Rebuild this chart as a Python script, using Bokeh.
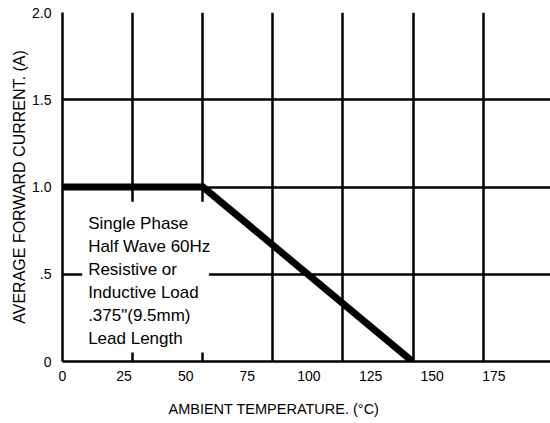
from bokeh.plotting import figure
from bokeh.models import FixedTicker, Label, BoxAnnotation, Range1d, Title
from bokeh.embed import file_html
from bokeh.resources import INLINE

# ---- data ----
temp_c = [0, 57, 142]          # ambient temperature (°C)
current_a = [1.0, 1.0, 0.0]    # average forward current (A)

x_ticks = [0, 25, 50, 75, 100, 125, 150, 175]
y_ticks = [0, 0.5, 1.0, 1.5, 2.0]
y_tick_labels = ["0", ".5", "1.0", "1.5", "2.0"]
note_lines = ["Single Phase", "Half Wave 60Hz", "Resistive or",
              "Inductive Load", ".375\"(9.5mm)", "Lead Length"]
x_title = "AMBIENT TEMPERATURE. (\u00b0C)"
y_title = "AVERAGE FORWARD CURRENT. (A)"

FONT = "Liberation Sans"

p = figure(width=550, height=423, output_backend="svg", toolbar_location=None,
           x_range=Range1d(0, 198), y_range=Range1d(0, 2.0),
           min_border_left=62, min_border_right=0, min_border_top=12, min_border_bottom=62)
p.outline_line_color = None
p.background_fill_color = "white"
p.border_fill_color = "white"

# grid (drawn divisions)
grid_x = [28.45 * k for k in range(1, 7)]
p.xgrid.ticker = FixedTicker(ticks=grid_x)
p.ygrid.ticker = FixedTicker(ticks=y_ticks)
for g in (p.xgrid, p.ygrid):
    g.grid_line_color = "black"
    g.grid_line_width = 2.5
    g.grid_line_alpha = 1.0

# axes
p.xaxis.ticker = FixedTicker(ticks=x_ticks)
p.yaxis.ticker = FixedTicker(ticks=y_ticks)
p.yaxis.major_label_overrides = {t: s for t, s in zip(y_ticks, y_tick_labels)}
for ax in (p.xaxis, p.yaxis):
    ax.axis_line_color = "black"
    ax.axis_line_width = 2.5
    ax.major_tick_line_color = None
    ax.minor_tick_line_color = None
    ax.major_label_text_font = FONT
    ax.major_label_text_font_size = "14px"
    ax.major_label_text_color = "black"
p.xaxis.major_label_standoff = 3
p.yaxis.major_label_standoff = 5

# spacer between x tick labels and the x title
p.xaxis.axis_label = " "
p.xaxis.axis_label_text_font_size = "2px"
p.xaxis.axis_label_standoff = 3

p.yaxis.axis_label = y_title
p.yaxis.axis_label_text_font = FONT
p.yaxis.axis_label_text_font_size = "16px"
p.yaxis.axis_label_text_font_style = "normal"
p.yaxis.axis_label_text_color = "black"
p.yaxis.axis_label_standoff = 1

# derating curve
p.line(temp_c, current_a, line_color="black", line_width=7,
       line_join="miter", line_cap="butt")

# white note box + text
p.add_layout(BoxAnnotation(left=8.0, right=59.4, bottom=0.052, top=0.915,
                           fill_color="white", fill_alpha=1.0, line_color=None,
                           level="annotation"))
p.add_layout(Label(x=10.4, y=0.843, text="\n".join(note_lines),
                   text_font=FONT, text_font_size="17px",
                   text_align="left", text_baseline="top",
                   text_line_height=1.21, text_color="black"))

# x axis title
p.add_layout(Title(text=x_title, align="left", offset=106, text_font=FONT,
                   text_font_size="14.5px", text_font_style="normal",
                   text_color="black", standoff=14), "below")

open("out.html", "w").write(file_html(p, INLINE))
